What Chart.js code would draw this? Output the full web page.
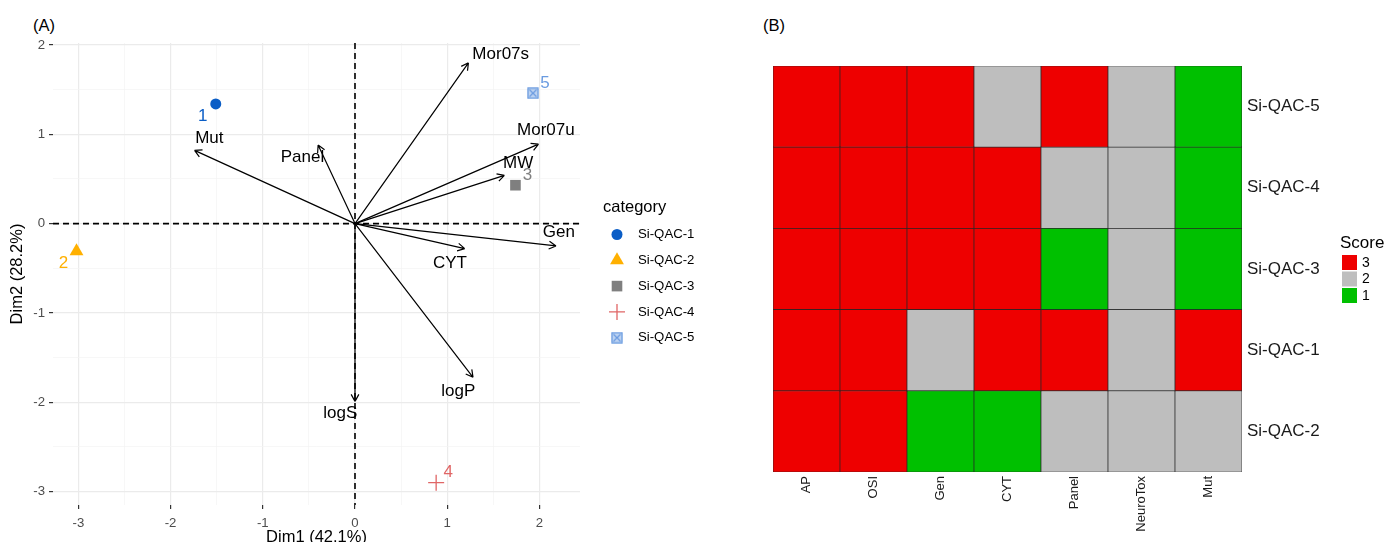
<!DOCTYPE html>
<html>
<head>
<meta charset="utf-8">
<script src="https://cdn.jsdelivr.net/npm/chart.js@4.4.1/dist/chart.umd.min.js"></script>
<style>
  html, body { margin: 0; padding: 0; background: #fff; }
  #wrap { position: relative; width: 1386px; height: 542px; overflow: hidden; font-family: 'Liberation Sans', Arial, sans-serif; }
  .tag { position: absolute; font-size: 16.5px; color: #000; line-height: 20px; }
  #pca-box { position: absolute; left: 0; top: 0; width: 750px; height: 552px; }
  #heat-box { position: absolute; left: 750px; top: 0; width: 636px; height: 542px; }
</style>
</head>
<body>
<div id="wrap">
  <div class="tag" style="left:33px; top:15px">(A)</div>
  <div class="tag" style="left:763px; top:15px">(B)</div>
  <div id="pca-box"><canvas id="pca-chart"></canvas></div>
  <div id="heat-box"><canvas id="heat-chart"></canvas></div>
</div>
<script>
// --- (A) PCA biplot data ---
const categories = ['Si-QAC-1', 'Si-QAC-2', 'Si-QAC-3', 'Si-QAC-4', 'Si-QAC-5'];
const pointIds = ['1', '2', '3', '4', '5'];
const dim1 = [-1.51, -3.02, 1.74, 0.88, 1.93];
const dim2 = [1.34, -0.31, 0.43, -2.90, 1.46];

const variables = ['Mut', 'Panel', 'Mor07s', 'Mor07u', 'MW', 'Gen', 'CYT', 'logP', 'logS'];
const varDim1 = [-1.74, -0.40, 1.23, 1.99, 1.62, 2.18, 1.19, 1.28, 0.00];
const varDim2 = [0.82, 0.88, 1.80, 0.89, 0.54, -0.25, -0.28, -1.72, -1.99];
// where the (repelled) variable names sit, in data units
const varLabelDim1 = [-1.58, -0.57, 1.58, 2.07, 1.77, 2.21, 1.03, 1.12, -0.16];
const varLabelDim2 = [0.96, 0.74, 1.89, 1.04, 0.67, -0.10, -0.44, -1.88, -2.12];

const xTicks = [-3, -2, -1, 0, 1, 2];
const yTicks = [-3, -2, -1, 0, 1, 2];

// --- (B) heatmap data ---
const tests = ['AP', 'OSI', 'Gen', 'CYT', 'Panel', 'NeuroTox', 'Mut'];
const compounds = ['Si-QAC-2', 'Si-QAC-1', 'Si-QAC-3', 'Si-QAC-4', 'Si-QAC-5']; // bottom row first
const scoreQAC2 = [3, 3, 1, 1, 2, 2, 2];
const scoreQAC1 = [3, 3, 2, 3, 3, 2, 3];
const scoreQAC3 = [3, 3, 3, 3, 1, 2, 1];
const scoreQAC4 = [3, 3, 3, 3, 2, 2, 1];
const scoreQAC5 = [3, 3, 3, 2, 3, 2, 1];
const scoreLevels = [3, 2, 1];

Chart.defaults.font.family = "'Liberation Sans', Arial, sans-serif";

const fontFamily = "'Liberation Sans', Arial, sans-serif";
const scoreColors = { 3: '#EE0000', 2: '#BEBEBE', 1: '#00C000' };

// square with an x inside (ggplot shape 7)
const boxCross = document.createElement('canvas');
boxCross.width = 12;
boxCross.height = 12;
(function () {
    const b = boxCross.getContext('2d');
    b.fillStyle = 'rgba(106,155,224,0.45)';
    b.fillRect(0.5, 0.5, 11, 11);
    b.strokeStyle = '#6A9BE0';
    b.lineWidth = 1.2;
    b.strokeRect(1, 1, 10, 10);
    b.beginPath();
    b.moveTo(2.5, 2.5); b.lineTo(9.5, 9.5);
    b.moveTo(9.5, 2.5); b.lineTo(2.5, 9.5);
    b.stroke();
})();

const markers = [
    { style: 'circle', radius: 5.5, color: '#0A5DC6' },
    { style: 'triangle', radius: 8, color: '#FFB000' },
    { style: 'rect', radius: 7.5, color: '#7F7F7F' },
    { style: 'cross', radius: 8, color: '#E06666' },
    { style: boxCross, radius: 6, color: '#6A9BE0' }
];

function withMinor(major) {
    let out = [];
    major.forEach((v, i) => {
        out.push(v);
        if (i < major.length - 1) out.push((v + major[i + 1]) / 2);
    });
    return out;
}

const isMajor = v => Number.isInteger(v);

function drawMarker(ctx, m, x, y) {
    ctx.save();
    ctx.fillStyle = m.color;
    ctx.strokeStyle = m.color;
    ctx.lineWidth = m.style === 'cross' ? 1.3 : 0;
    Chart.helpers.drawPoint(ctx, {
        pointStyle: m.style, radius: m.radius, rotation: 0,
        borderWidth: m.style === 'cross' ? 1.3 : 0
    }, x, y);
    ctx.restore();
}

const biplotPlugin = {
    id: 'biplot',
    beforeDatasetsDraw(chart) {
        const { ctx, chartArea: a, scales: { x, y } } = chart;
        const x0 = x.getPixelForValue(0), y0 = y.getPixelForValue(0);
        ctx.save();
        ctx.strokeStyle = '#000';
        ctx.lineWidth = 1.6;
        ctx.setLineDash([6, 4]);
        ctx.beginPath();
        ctx.moveTo(a.left, y0); ctx.lineTo(a.right, y0);
        ctx.moveTo(x0, a.top); ctx.lineTo(x0, a.bottom);
        ctx.stroke();
        ctx.setLineDash([]);

        ctx.lineWidth = 1.2;
        variables.forEach((name, i) => {
            const tx = x.getPixelForValue(varDim1[i]), ty = y.getPixelForValue(varDim2[i]);
            const ang = Math.atan2(ty - y0, tx - x0);
            ctx.beginPath();
            ctx.moveTo(x0, y0);
            ctx.lineTo(tx, ty);
            [-1, 1].forEach(s => {
                ctx.moveTo(tx, ty);
                ctx.lineTo(tx - 8 * Math.cos(ang + s * 0.5), ty - 8 * Math.sin(ang + s * 0.5));
            });
            ctx.stroke();
        });

        ctx.font = '17px ' + fontFamily;
        ctx.fillStyle = '#000';
        ctx.textAlign = 'center';
        ctx.textBaseline = 'middle';
        variables.forEach((name, i) => {
            ctx.fillText(name, x.getPixelForValue(varLabelDim1[i]), y.getPixelForValue(varLabelDim2[i]));
        });
        ctx.restore();
    },
    afterDatasetsDraw(chart) {
        const ctx = chart.ctx;
        ctx.save();
        ctx.font = '17px ' + fontFamily;
        ctx.textAlign = 'center';
        ctx.textBaseline = 'middle';
        chart.data.datasets.forEach((ds, i) => {
            const pt = chart.getDatasetMeta(i).data[0];
            const left = dim1[i] < 0;
            ctx.fillStyle = markers[i].color;
            ctx.fillText(pointIds[i], pt.x + (left ? -13 : 12), pt.y + (left ? 12 : -10));
        });
        ctx.restore();
    },
    afterDraw(chart) {
        // legend "category"
        const { ctx, chartArea: a } = chart;
        const cy = (a.top + a.bottom) / 2;
        const left = a.right + 23;
        ctx.save();
        ctx.fillStyle = '#000';
        ctx.textBaseline = 'middle';
        ctx.textAlign = 'left';
        ctx.font = '16.5px ' + fontFamily;
        ctx.fillText('category', left, cy - 67);
        ctx.font = '13.2px ' + fontFamily;
        categories.forEach((name, i) => {
            const yy = cy - 39.5 + i * 25.8;
            drawMarker(ctx, markers[i], left + 14, yy);
            ctx.fillStyle = '#000';
            ctx.fillText(name, left + 35, yy);
        });
        ctx.restore();
    }
};

const axisTicks = {
    autoSkip: false,
    maxRotation: 0,
    padding: 4,
    color: '#4D4D4D',
    font: { size: 13.2 },
    callback: v => isMajor(v) ? v : ''
};
const axisGrid = {
    color: c => isMajor(c.tick && c.tick.value) ? '#EBEBEB' : '#F3F3F3',
    lineWidth: c => isMajor(c.tick && c.tick.value) ? 1.2 : 0.7,
    tickColor: c => isMajor(c.tick && c.tick.value) ? '#333333' : 'rgba(0,0,0,0)',
    tickLength: 4,
    drawTicks: true
};

new Chart(document.getElementById('pca-chart').getContext('2d'), {
    type: 'scatter',
    data: {
        datasets: categories.map((name, i) => ({
            label: name,
            data: [{ x: dim1[i], y: dim2[i] }],
            pointStyle: markers[i].style,
            pointRadius: markers[i].radius,
            backgroundColor: markers[i].color,
            borderColor: markers[i].color,
            borderWidth: markers[i].style === 'cross' ? 1.3 : 0
        }))
    },
    options: {
        responsive: true,
        maintainAspectRatio: false,
        animation: false,
        layout: { padding: { left: 6, top: 43, right: 170, bottom: 0 } },
        scales: {
            x: {
                type: 'linear', min: -3.275, max: 2.44,
                afterBuildTicks: s => { s.ticks = withMinor(xTicks).map(v => ({ value: v })); },
                grid: axisGrid,
                border: { display: false },
                ticks: Object.assign({}, axisTicks, { padding: 6 }),
                title: { display: true, text: 'Dim1 (42.1%)', color: '#000', font: { size: 16.5, lineHeight: 1 }, padding: { top: 0, bottom: 6 } },
                afterFit: s => { s.height = 47; }
            },
            y: {
                type: 'linear', min: -3.15, max: 2.022,
                afterBuildTicks: s => { s.ticks = withMinor(yTicks).map(v => ({ value: v })); },
                grid: axisGrid,
                border: { display: false },
                ticks: axisTicks,
                title: { display: true, text: 'Dim2 (28.2%)', color: '#000', font: { size: 16.5 }, padding: { top: 2, bottom: 0 } },
                afterFit: s => { s.width = 47; }
            }
        },
        plugins: {
            legend: { display: false },
            tooltip: { enabled: false }
        }
    },
    plugins: [biplotPlugin]
});

// --- (B) heatmap drawn as floating bars, one dataset per compound row ---
const rowScores = [scoreQAC2, scoreQAC1, scoreQAC3, scoreQAC4, scoreQAC5];

const scoreLegend = {
    id: 'scoreLegend',
    afterDraw(chart) {
        const { ctx, chartArea: a } = chart;
        const cy = (a.top + a.bottom) / 2;
        const left = a.right + 98;
        ctx.save();
        ctx.textAlign = 'left';
        ctx.textBaseline = 'middle';
        ctx.fillStyle = '#000';
        ctx.font = '17px ' + fontFamily;
        ctx.fillText('Score', left, cy - 26);
        ctx.font = '14px ' + fontFamily;
        scoreLevels.forEach((s, i) => {
            const top = cy - 14 + i * 16.5;
            ctx.fillStyle = scoreColors[s];
            ctx.fillRect(left + 2, top, 15, 15);
            ctx.fillStyle = '#000';
            ctx.fillText(String(s), left + 22, top + 8);
        });
        ctx.restore();
    }
};

new Chart(document.getElementById('heat-chart').getContext('2d'), {
    type: 'bar',
    data: {
        labels: tests,
        datasets: compounds.map((name, r) => ({
            label: name,
            data: rowScores[r].map(() => [r - 0.5, r + 0.5]),
            backgroundColor: rowScores[r].map(s => scoreColors[s]),
            borderColor: '#262626',
            borderWidth: 0.7,
            borderSkipped: false,
            grouped: false,
            barPercentage: 1,
            categoryPercentage: 1
        }))
    },
    options: {
        responsive: true,
        maintainAspectRatio: false,
        animation: false,
        layout: { padding: { left: 23, top: 66, right: 51, bottom: 0 } },
        scales: {
            x: {
                grid: { display: false, drawTicks: false },
                border: { display: false },
                ticks: { autoSkip: false, maxRotation: 90, minRotation: 90, padding: 4, color: '#1A1A1A', font: { size: 13 } },
                afterFit: s => { s.height = 70; }
            },
            y: {
                position: 'right', min: -0.5, max: 4.5,
                afterBuildTicks: s => { s.ticks = compounds.map((c, i) => ({ value: i })); },
                grid: { display: false, drawTicks: false },
                border: { display: false },
                ticks: { callback: v => compounds[v], padding: 5, color: '#1A1A1A', font: { size: 17 } },
                afterFit: s => { s.width = 93; }
            }
        },
        plugins: {
            legend: { display: false },
            tooltip: { enabled: false }
        }
    },
    plugins: [scoreLegend]
});
</script>
</body>
</html>
